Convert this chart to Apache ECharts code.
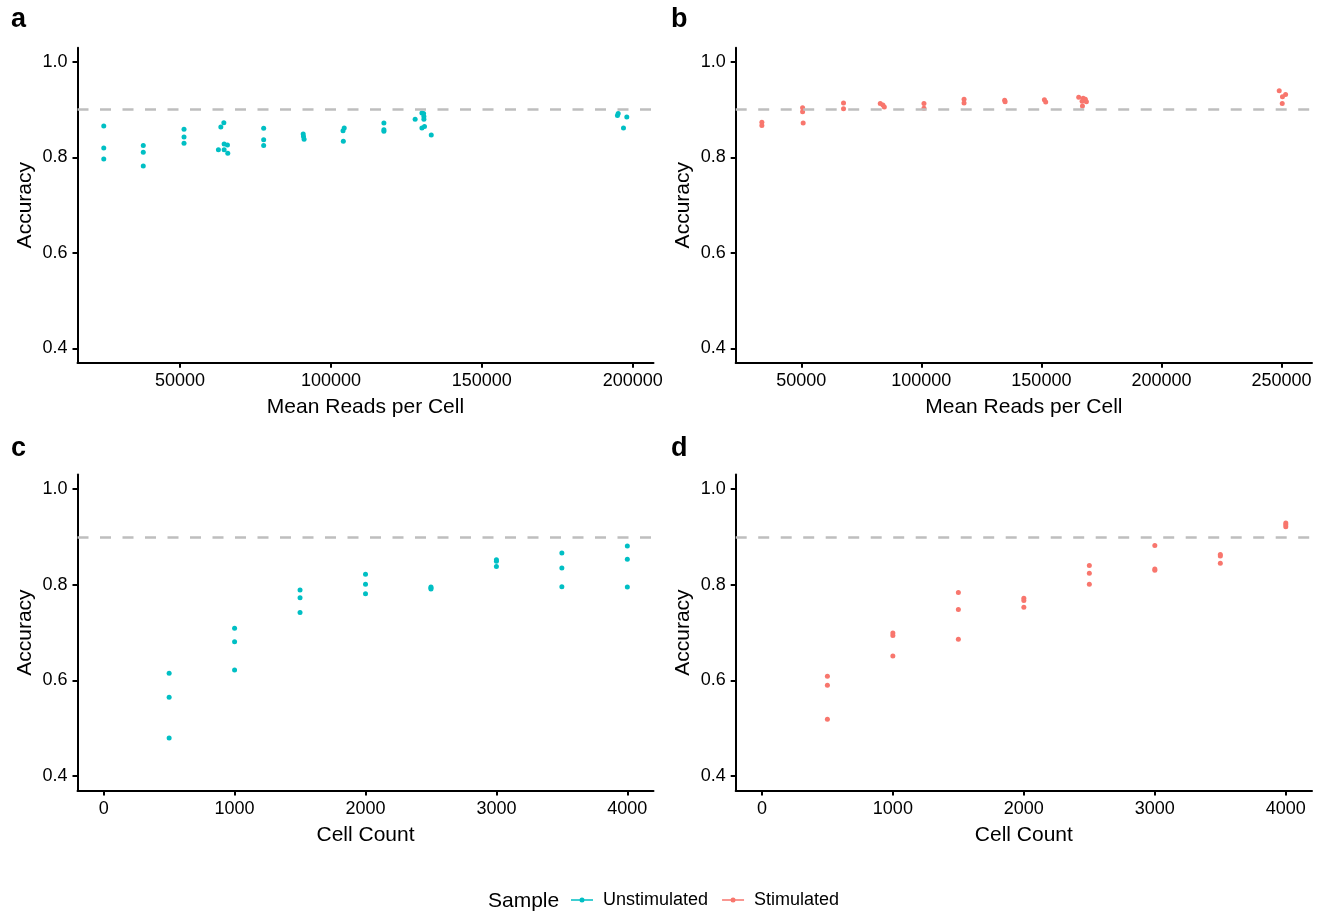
<!DOCTYPE html>
<html>
<head>
<meta charset="utf-8">
<script src="https://cdn.jsdelivr.net/npm/echarts@6/dist/echarts.min.js"></script>
<style>
html,body{margin:0;padding:0;background:#fff;}
#chart{width:1325px;height:915px;}
</style>
</head>
<body>
<div id="chart"></div>
<script>
// ---------- data ----------
// Panel a: Unstimulated, mean reads per cell vs accuracy
var readsUnstim = [24700,24700,24700, 37800,37800,37800, 51300,51300,51300,
  63500,64500,64600,65700,62700,64600,65800, 77700,77700,77700,
  90800,90900,91100, 104400,104000,104100, 117550,117550,117550,
  130150,130700,130800,130800,127900,130150,131000,133250,
  195200,194950,198050,196950];
var accUnstimReads = [0.866,0.820,0.797, 0.825,0.811,0.782, 0.859,0.843,0.830,
  0.864,0.873,0.828,0.826,0.816,0.816,0.809, 0.861,0.837,0.825,
  0.849,0.844,0.838, 0.862,0.856,0.834, 0.872,0.858,0.855,
  0.893,0.892,0.886,0.880,0.880,0.862,0.865,0.847,
  0.892,0.888,0.885,0.862];
// Panel b: Stimulated
var readsStim = [33600,33600, 50550,50550,50800, 67600,67600,
  82900,84000,84600, 101100,101100, 117800,117800, 134700,134900,
  151250,151800, 165550,167400,168300,168750,166950,167100,
  249050,251700,250400,250300];
var accStimReads = [0.874,0.867, 0.904,0.896,0.872, 0.914,0.902,
  0.913,0.910,0.906, 0.913,0.903, 0.922,0.914, 0.920,0.917,
  0.921,0.916, 0.926,0.924,0.922,0.917,0.918,0.908,
  0.940,0.932,0.927,0.913];
// Panels c/d: cell count vs accuracy
var cellCounts = [500,500,500, 1000,1000,1000, 1500,1500,1500, 2000,2000,2000,
  2500,2500,2500, 3000,3000,3000, 3500,3500,3500, 4000,4000,4000];
var accUnstimCells = [0.615,0.565,0.480, 0.709,0.681,0.622, 0.789,0.773,0.742,
  0.822,0.801,0.781, 0.795,0.791,0.793, 0.852,0.849,0.838,
  0.866,0.835,0.796, 0.881,0.853,0.795];
var accStimCells = [0.609,0.590,0.519, 0.699,0.694,0.651, 0.784,0.748,0.686,
  0.772,0.767,0.753, 0.840,0.824,0.801, 0.882,0.833,0.830,
  0.863,0.860,0.845, 0.929,0.925,0.921];
var accuracyThreshold = 0.9;
// tick labels
var yTicks = [0.4,0.6,0.8,1.0];
var xTicksA = [50000,100000,150000,200000];
var xTicksB = [50000,100000,150000,200000,250000];
var xTicksCell = [0,1000,2000,3000,4000];
var panelLabels = ['a','b','c','d'];
var sampleNames = ['Unstimulated','Stimulated'];
var sampleColors = ['#00BFC4','#F8766D'];

// ---------- chart ----------
var FONT = '"Liberation Sans", Arial, sans-serif';
function zip(xs, ys){ return xs.map(function(x,i){ return [x, ys[i]]; }); }

var grids = [
  {left:77.5, top:47.7, width:576, height:315},
  {left:735.7, top:47.7, width:576.3, height:315},
  {left:77.5, top:474.6, width:576, height:316},
  {left:735.7, top:474.6, width:576.3, height:316}
];
function xAxis(idx, min, max, ticks, name){
  return {
    type:'value', gridIndex:idx, min:min, max:max,
    name:name, nameLocation:'middle', nameGap:34,
    nameTextStyle:{fontSize:21, color:'#000', fontFamily:FONT},
    axisLine:{show:true, onZero:false, lineStyle:{color:'#000', width:2}},
    axisTick:{show:true, length:5, lineStyle:{color:'#000', width:2}, customValues:ticks},
    axisLabel:{show:true, fontSize:18, color:'#000', fontFamily:FONT, margin:9, customValues:ticks,
      formatter:function(v){ return String(v); }},
    splitLine:{show:false}
  };
}
function yAxis(idx){
  return {
    type:'value', gridIndex:idx, min:0.37, max:1.03,
    name:'Accuracy', nameLocation:'middle', nameGap:42, nameRotate:90,
    nameTextStyle:{fontSize:21, color:'#000', fontFamily:FONT},
    axisLine:{show:true, onZero:false, lineStyle:{color:'#000', width:2}},
    axisTick:{show:true, length:5, lineStyle:{color:'#000', width:2}, customValues:yTicks},
    axisLabel:{show:true, fontSize:18, color:'#000', fontFamily:FONT, margin:10, customValues:yTicks,
      formatter:function(v){ return v.toFixed(1); }},
    splitLine:{show:false}
  };
}
var hline = {
  silent:true, symbol:'none', animation:false,
  label:{show:false},
  lineStyle:{color:'#BEBEBE', width:2.5, type:[11,11.5]},
  data:[{yAxis:accuracyThreshold}]
};
function scatter(idx, name, color, data){
  return {
    type:'scatter', name:name, xAxisIndex:idx, yAxisIndex:idx,
    symbolSize:5, itemStyle:{color:color, opacity:1},
    data:data, markLine:hline, z:3, animation:false
  };
}
function panelLabel(text, x, top){
  return {type:'text', x:x, y:top, style:{text:text, fontSize:27, fontWeight:'bold', fill:'#000', fontFamily:FONT}};
}

var iconPath = 'path://M0,2.35H22V3.65H0Z M8.5,3A2.5,2.5 0 1,1 13.5,3A2.5,2.5 0 1,1 8.5,3Z';

var option = {
  backgroundColor:'#fff',
  animation:false,
  grid:grids,
  xAxis:[
    xAxis(0, 16000, 206900, xTicksA, 'Mean Reads per Cell'),
    xAxis(1, 22700, 262700, xTicksB, 'Mean Reads per Cell'),
    xAxis(2, -200, 4200, xTicksCell, 'Cell Count'),
    xAxis(3, -200, 4200, xTicksCell, 'Cell Count')
  ],
  yAxis:[yAxis(0), yAxis(1), yAxis(2), yAxis(3)],
  legend:{
    left:571, top:891, orient:'horizontal', padding:0,
    itemWidth:22, itemHeight:5, itemGap:14,
    icon:iconPath,
    textStyle:{fontSize:18, color:'#000', fontFamily:FONT, padding:[0,0,0,5]},
    data:sampleNames
  },
  graphic:[
    {type:'text', left:488, top:891, style:{text:'Sample', fontSize:21, fill:'#000', fontFamily:FONT}},
    panelLabel(panelLabels[0], 11, 6),
    panelLabel(panelLabels[1], 671, 6),
    panelLabel(panelLabels[2], 11, 435),
    panelLabel(panelLabels[3], 671, 435)
  ],
  series:[
    scatter(0, sampleNames[0], sampleColors[0], zip(readsUnstim, accUnstimReads)),
    scatter(1, sampleNames[1], sampleColors[1], zip(readsStim, accStimReads)),
    scatter(2, sampleNames[0], sampleColors[0], zip(cellCounts, accUnstimCells)),
    scatter(3, sampleNames[1], sampleColors[1], zip(cellCounts, accStimCells))
  ]
};
var chart = echarts.init(document.getElementById('chart'), null, {renderer:'canvas'});
chart.setOption(option);
</script>
</body>
</html>
